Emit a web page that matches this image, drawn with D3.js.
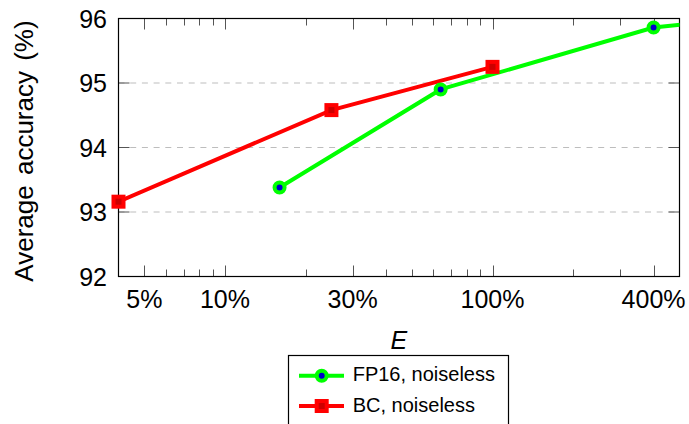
<!DOCTYPE html>
<html>
<head>
<meta charset="utf-8">
<script src="https://cdn.jsdelivr.net/npm/d3@7/dist/d3.min.js"></script>
<style>
  html, body { margin: 0; padding: 0; background: #fff; }
  svg { display: block; font-family: "Liberation Sans", Arial, sans-serif; }
</style>
</head>
<body>
<svg id="chart" width="689" height="424"></svg>
<script>
// Energy budget E (% of reference) and average accuracy (%)
const fp16E   = [16, 64, 400, 1600];
const fp16Acc = [93.38, 94.90, 95.86, 96.12];
const bcE     = [4, 25, 100];
const bcAcc   = [93.16, 94.58, 95.25];

const xTickValues = [5, 10, 30, 100, 400];
const xTickLabels = ["5%", "10%", "30%", "100%", "400%"];
const yTickValues = [92, 93, 94, 95, 96];
const yGridValues = [93, 94, 95];

const seriesNames = ["FP16, noiseless", "BC, noiseless"];

const svg = d3.select("#chart");
const pLeft = 118.5, pRight = 679.5, pTop = 18.5, pBottom = 276.5;

const x = d3.scaleLog().domain([4, 500]).range([pLeft, pRight]);
const y = d3.scaleLinear().domain([92, 96]).range([pBottom, pTop]);

// minor log ticks: every k*10^n inside the domain
const minorTicks = [];
[1, 10, 100].forEach(base => {
  for (let k = 1; k <= 9; k++) {
    const v = k * base;
    if (v > 4 && v < 500 && !xTickValues.includes(v)) minorTicks.push(v);
  }
});

// dashed horizontal grid
svg.append("g").selectAll("line").data(yGridValues).join("line")
  .attr("x1", pLeft).attr("x2", pRight)
  .attr("y1", d => y(d)).attr("y2", d => y(d))
  .attr("stroke", "#bdbdbd").attr("stroke-width", 1)
  .attr("stroke-dasharray", "6 5.7");

// ticks (inside, on both sides)
const ticks = svg.append("g").attr("stroke", "#555").attr("stroke-width", 1);
minorTicks.forEach(v => {
  const px = Math.round(x(v)) + 0.5;
  ticks.append("line").attr("x1", px).attr("x2", px).attr("y1", pBottom).attr("y2", pBottom - 7);
  ticks.append("line").attr("x1", px).attr("x2", px).attr("y1", pTop).attr("y2", pTop + 7);
});
xTickValues.forEach(v => {
  const px = Math.round(x(v)) + 0.5;
  ticks.append("line").attr("x1", px).attr("x2", px).attr("y1", pBottom).attr("y2", pBottom - 11);
  ticks.append("line").attr("x1", px).attr("x2", px).attr("y1", pTop).attr("y2", pTop + 11);
});
yTickValues.forEach(v => {
  const py = y(v);
  ticks.append("line").attr("x1", pLeft).attr("x2", pLeft + 11).attr("y1", py).attr("y2", py);
  ticks.append("line").attr("x1", pRight).attr("x2", pRight - 11).attr("y1", py).attr("y2", py);
});

// frame
svg.append("rect")
  .attr("x", pLeft).attr("y", pTop)
  .attr("width", pRight - pLeft).attr("height", pBottom - pTop)
  .attr("fill", "none").attr("stroke", "#000").attr("stroke-width", 1.2);

// tick labels
svg.append("g").selectAll("text").data(xTickValues).join("text")
  .attr("x", d => x(d)).attr("y", 308)
  .attr("text-anchor", "middle").attr("font-size", 25).attr("fill", "#000")
  .text((d, i) => xTickLabels[i]);

svg.append("g").selectAll("text").data(yTickValues).join("text")
  .attr("x", 107).attr("y", d => y(d) + 9)
  .attr("text-anchor", "end").attr("font-size", 25).attr("fill", "#000")
  .text(d => d);

// axis titles
svg.append("text")
  .attr("x", 398.8).attr("y", 349)
  .attr("text-anchor", "middle").attr("font-size", 25).attr("font-style", "italic")
  .text("E");

svg.append("text")
  .attr("transform", "translate(33,151) rotate(-90)")
  .attr("text-anchor", "middle").attr("font-size", 26)
  .attr("word-spacing", 3)
  .text("Average accuracy (%)");

// series
svg.append("clipPath").attr("id", "plot-clip")
  .append("rect").attr("x", pLeft).attr("y", pTop)
  .attr("width", pRight - pLeft).attr("height", pBottom - pTop);

const line = d3.line().x(d => x(d[0])).y(d => y(d[1]));
const fp16 = fp16E.map((e, i) => [e, fp16Acc[i]]);
const bc = bcE.map((e, i) => [e, bcAcc[i]]);

const inDomain = d => d[0] >= 4 && d[0] <= 500;

svg.append("path").datum(fp16).attr("d", line)
  .attr("clip-path", "url(#plot-clip)")
  .attr("fill", "none").attr("stroke", "#00ff00").attr("stroke-width", 4);
svg.append("path").datum(bc).attr("d", line)
  .attr("clip-path", "url(#plot-clip)")
  .attr("fill", "none").attr("stroke", "#ff0000").attr("stroke-width", 4);

function circleMark(g, cx, cy) {
  g.append("circle").attr("cx", cx).attr("cy", cy).attr("r", 5)
    .attr("fill", "#0000cc").attr("stroke", "#00ff00").attr("stroke-width", 4);
}
function squareMark(g, cx, cy) {
  g.append("rect").attr("x", cx - 5).attr("y", cy - 5).attr("width", 10).attr("height", 10)
    .attr("fill", "#cc0000").attr("stroke", "#ff0000").attr("stroke-width", 4);
}

const marks = svg.append("g");
fp16.filter(inDomain).forEach(d => circleMark(marks, x(d[0]), y(d[1])));
bc.filter(inDomain).forEach(d => squareMark(marks, x(d[0]), y(d[1])));

// legend
const lg = svg.append("g");
lg.append("rect").attr("x", 288.5).attr("y", 355.5).attr("width", 220).attr("height", 90)
  .attr("fill", "#fff").attr("stroke", "#000").attr("stroke-width", 1.2);

const entries = [
  { name: seriesNames[0], color: "#00ff00", mark: circleMark, cy: 375.7 },
  { name: seriesNames[1], color: "#ff0000", mark: squareMark, cy: 406 }
];
entries.forEach(e => {
  lg.append("line").attr("x1", 299).attr("x2", 344).attr("y1", e.cy).attr("y2", e.cy)
    .attr("stroke", e.color).attr("stroke-width", 4);
  e.mark(lg, 321.7, e.cy);
  lg.append("text").attr("x", 352.7).attr("y", e.cy + 5.5)
    .attr("font-size", 20).attr("fill", "#000").text(e.name);
});
</script>
</body>
</html>
